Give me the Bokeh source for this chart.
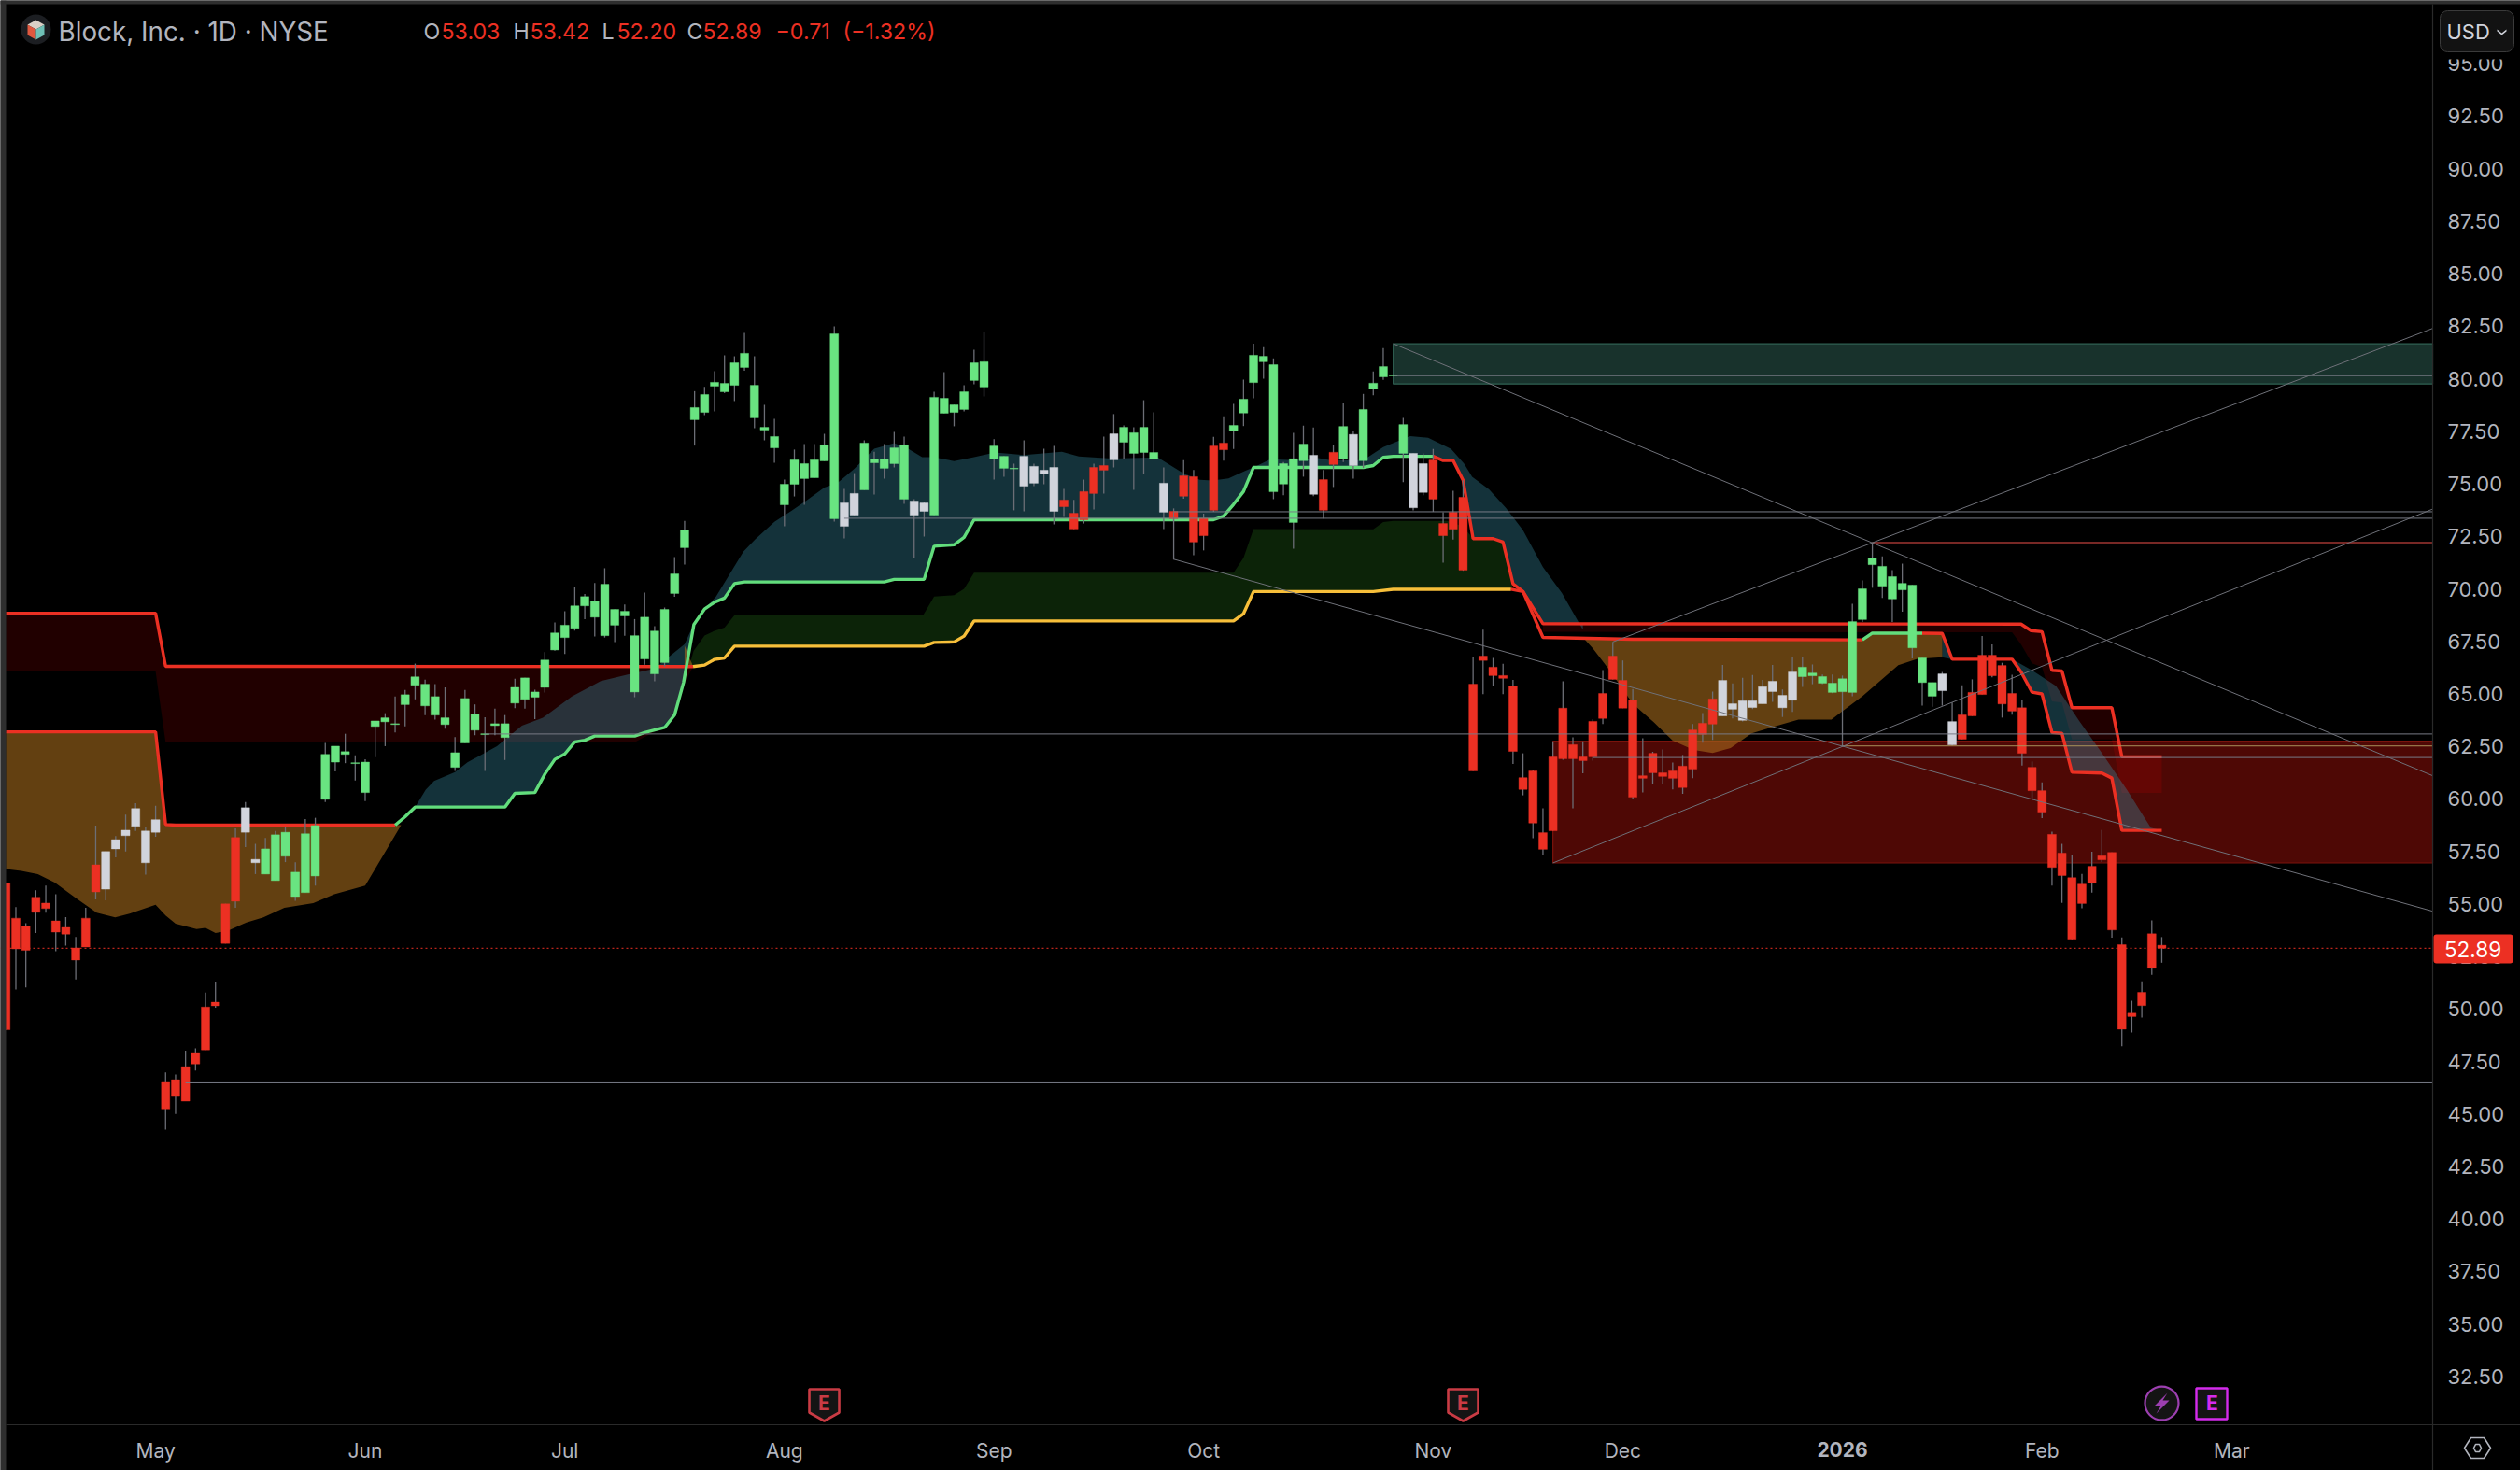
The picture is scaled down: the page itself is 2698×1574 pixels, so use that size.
from bokeh.embed import file_html
from bokeh.resources import INLINE
from bokeh.plotting import figure
from bokeh.models import (BoxAnnotation, ColumnDataSource, FixedTicker, Label,
                          NumeralTickFormatter, PolyAnnotation)

# ---------------- candle data (index = trading bar) ----------------
high = [56.0,54.85,54.08,55.65,55.87,55.46,54.37,53.43,54.82,58.73,
 57.49,58.23,59.25,59.80,58.67,59.67,46.98,46.88,48.01,48.12,
 50.78,51.26,55.0,58.60,59.85,57.86,58.14,58.47,58.64,56.98,
 59.04,59.10,62.66,62.51,63.10,62.07,61.88,63.71,64.08,64.87,
 65.19,66.44,65.68,65.46,65.31,62.94,65.19,64.50,63.89,64.30,
 63.99,65.72,65.76,65.20,66.99,68.40,68.93,70.08,69.76,70.28,
 70.98,69.02,69.25,68.56,69.82,68.22,69.11,71.51,73.23,79.41,
 79.61,80.36,81.12,81.07,82.18,81.07,78.76,78.09,75.20,76.63,
 76.89,76.89,77.38,82.50,74.76,75.51,77.07,76.52,76.89,77.47,
 77.25,74.27,74.14,79.38,80.32,78.76,79.69,81.38,82.23,77.12,
 76.31,75.96,77.07,75.96,76.67,76.80,74.76,74.23,75.20,75.96,
 77.25,78.32,77.78,77.69,78.98,78.40,75.78,73.83,76.13,75.66,
 73.58,77.24,78.21,78.80,79.96,81.67,81.51,80.97,76.04,77.42,
 77.77,77.68,75.66,76.84,78.86,77.54,79.28,80.35,81.46,80.18,
 78.14,76.45,76.45,76.66,73.65,74.67,75.17,66.76,68.05,66.71,
 66.43,65.67,62.17,61.40,59.55,62.74,65.60,62.93,62.74,63.79,
 66.13,67.47,66.59,65.23,62.89,62.24,62.35,61.73,62.09,63.56,
 64.09,65.11,66.38,65.50,65.76,65.90,65.67,66.38,65.21,66.73,
 66.73,66.40,65.92,65.92,65.87,69.29,70.40,72.21,71.55,70.89,
 71.20,70.18,66.71,65.54,66.04,64.59,65.41,65.69,67.76,67.35,
 66.48,65.91,64.70,61.78,60.79,58.44,57.86,57.32,56.43,57.48,
 58.52,57.45,53.40,50.39,51.31,54.21,53.42]
body_top = [55.98,54.32,53.93,55.32,55.04,54.19,53.88,52.90,54.32,56.86,
 57.49,58.06,58.51,59.54,58.47,59.01,46.50,46.63,47.25,47.92,
 50.09,50.32,55.0,58.16,59.58,57.12,57.62,58.29,58.41,56.51,
 58.34,58.73,62.12,62.51,62.25,61.72,61.75,63.71,63.86,63.58,
 64.96,65.81,65.46,64.87,63.86,62.20,64.78,64.02,63.10,63.58,
 63.58,65.31,65.76,65.09,66.61,67.90,68.27,69.19,69.63,69.41,
 70.22,69.02,68.93,67.77,68.65,67.99,69.02,70.71,72.80,78.63,
 79.25,79.83,79.78,80.76,81.21,79.69,77.69,77.25,74.98,76.14,
 75.96,76.14,76.85,82.14,74.09,74.54,76.94,76.18,76.18,76.71,
 76.85,74.18,74.09,79.12,79.07,78.76,79.38,80.76,80.81,76.80,
 76.31,75.74,76.31,75.83,75.65,75.78,74.23,73.60,74.63,75.78,
 75.87,77.38,77.69,77.43,77.69,76.49,75.03,73.69,75.38,75.34,
 73.35,76.80,76.94,77.78,79.03,81.12,81.07,80.67,75.96,76.19,
 76.89,76.36,75.20,76.50,77.73,77.35,78.54,79.79,80.58,80.18,
 77.82,76.45,75.96,76.13,73.11,73.65,74.36,65.46,66.80,66.27,
 65.87,65.37,61.01,61.33,58.39,62.00,64.32,62.58,62.00,63.69,
 65.02,66.80,65.64,64.70,61.10,62.17,61.24,61.33,61.56,63.28,
 63.60,64.76,65.64,64.53,64.67,64.67,65.34,65.60,64.93,66.04,
 66.27,65.99,65.82,65.51,65.72,68.44,70.00,71.46,71.07,70.58,
 70.26,70.18,66.71,65.54,65.95,63.68,64.00,65.07,66.84,66.84,
 66.35,65.02,64.34,61.50,60.39,58.31,57.42,56.25,55.94,56.79,
 57.29,57.45,53.06,49.80,50.79,53.58,53.03]
body_bot = [49.01,52.86,52.79,54.60,54.78,53.66,53.56,52.33,52.95,55.57,
 55.70,57.62,58.25,58.69,56.96,58.41,45.24,45.83,45.61,47.38,
 48.05,50.15,53.12,55.13,58.41,56.96,56.42,56.11,57.27,55.35,
 55.54,56.33,59.98,61.75,62.12,61.68,60.30,63.45,63.67,63.54,
 64.49,65.41,64.43,63.99,63.54,61.50,62.66,63.27,63.06,63.49,
 62.92,64.56,64.74,64.84,65.31,67.09,67.68,68.12,69.19,68.65,
 67.77,68.27,68.71,65.09,66.66,65.95,66.49,69.78,71.96,78.05,
 78.40,79.65,79.38,79.69,80.54,78.14,77.56,76.71,74.00,74.98,
 75.25,75.29,76.09,73.34,72.98,73.51,74.71,76.00,75.74,75.96,
 74.27,73.51,73.69,73.51,78.36,78.40,78.54,79.92,79.61,76.18,
 75.74,75.71,74.89,75.03,75.47,73.69,73.91,72.85,73.29,74.54,
 75.65,76.14,76.98,76.45,76.49,76.18,73.65,73.34,74.41,72.23,
 72.53,73.74,76.62,77.52,78.37,79.82,80.81,74.62,74.99,73.16,
 76.10,74.50,73.74,75.92,76.19,75.87,76.10,79.53,80.09,80.14,
 76.45,73.86,74.59,74.27,72.53,72.84,70.89,61.33,66.59,65.87,
 65.74,62.26,60.45,58.85,57.60,58.48,61.91,61.91,61.82,62.00,
 63.83,65.69,64.32,60.08,60.98,61.24,61.07,60.98,60.54,61.42,
 63.07,63.56,63.95,64.27,63.74,64.35,64.53,65.11,64.34,64.70,
 65.82,65.86,65.51,65.07,65.10,65.07,68.54,71.15,70.13,69.52,
 69.95,67.19,65.54,64.89,65.15,62.57,62.84,63.95,64.97,65.86,
 64.52,64.18,62.17,60.39,59.37,56.74,56.35,53.32,55.02,55.99,
 57.10,53.76,49.04,49.64,50.16,51.94,52.89]
low = [49.0,50.92,51.02,53.62,54.58,52.75,53.01,51.40,52.95,55.22,
 55.17,57.22,57.49,58.47,56.39,58.19,44.25,45.00,45.61,47.07,
 48.05,50.06,53.12,54.82,57.71,56.42,56.42,56.11,56.99,55.15,
 55.54,55.87,59.85,61.31,61.70,60.87,59.89,61.98,62.51,63.16,
 63.45,64.74,63.99,63.77,63.34,61.33,62.66,63.03,61.33,63.03,
 61.85,64.32,64.30,63.80,65.06,67.05,66.90,68.01,68.56,67.73,
 67.68,67.46,67.77,64.84,66.39,65.6,66.30,69.62,71.16,76.82,
 78.27,78.45,79.31,78.94,80.38,77.65,77.07,76.00,72.98,74.40,
 74.00,75.29,76.09,73.20,72.40,73.51,74.71,74.49,75.25,75.78,
 74.05,71.48,72.49,73.51,78.36,77.74,78.45,79.74,79.16,75.20,
 75.34,73.74,73.69,74.89,74.98,73.07,73.42,72.85,73.11,73.78,
 74.54,75.78,76.18,74.71,75.47,76.18,72.85,71.39,74.29,71.60,
 71.83,73.67,76.10,76.66,77.75,79.07,80.00,74.27,74.46,71.91,
 75.34,74.41,73.35,74.85,76.04,75.25,75.75,79.21,79.95,80.14,
 75.08,73.74,74.46,73.67,71.25,72.35,70.86,61.33,64.99,65.37,
 64.99,61.66,60.17,58.13,57.30,58.48,61.86,59.55,61.22,61.82,
 63.56,65.69,64.32,59.98,60.31,60.73,60.73,60.45,60.24,60.98,
 62.67,62.81,63.95,63.83,63.69,64.27,64.53,64.62,63.90,64.14,
 65.33,65.46,65.46,65.03,62.50,64.89,68.42,70.05,69.57,68.42,
 68.91,66.69,64.44,64.39,64.44,62.53,62.84,63.95,64.97,65.79,
 63.87,64.01,61.59,59.95,59.08,55.87,55.05,53.32,54.79,55.54,
 56.99,53.39,48.22,48.88,49.59,51.63,52.20]
# candle state: R red, W white, G green, in runs
state_runs = [("R",10),("W",6),("R",8),("W",2),("G",58),("W",2),("G",5),("W",2),("G",9),
 ("W",4),("R",5),("W",1),("G",4),("W",1),("R",6),("G",8),("W",1),("R",2),("G",1),("W",1),
 ("G",5),("W",2),("R",29),("W",8),("G",14),("W",2),("R",21)]

price_ticks = [32.5,35,37.5,40,42.5,45,47.5,50,52.5,55,57.5,60,62.5,65,67.5,70,72.5,75,77.5,
 80,82.5,85,87.5,90,92.5,95]
month_bars = [15,36,56,78,99,120,143,162,204,223]
month_names = ["May","Jun","Jul","Aug","Sep","Oct","Nov","Dec","Feb","Mar"]
year_bar = 184
last_close = 52.89

# ---------------- indicator lines: (bar, price) ----------------
red_a_x = [0,15,16,68.85]
red_a_y = [68.84,68.84,66.31,66.30]
red_b_x = [0,15,16,17,39]
red_b_y = [63.19,63.19,58.78,58.75,58.75]
band_a_low_x = [0,15,16,63,65,67,68,68.85]
band_a_low_y = [66.07,66.07,62.70,62.70,63.2,64.0,65.5,66.30]
brown_a_low_x = [0,1.55,3.2,4.9,7,9.1,10.95,12.4,15,16,17,19.1,20,21,22.2,24.1,25.8,27.9,30.8,32.9,36,39.6]
brown_a_low_y = [56.66,56.57,56.42,56.02,55.28,54.58,54.36,54.54,54.96,54.45,54.06,53.80,53.86,53.62,53.71,54.12,54.36,54.82,55.04,55.46,55.87,58.75]
green_x = [39,40,41,50,51,53,54,55,56,57,58,59,63,64,66,67,67.9,68.93,70,71,72,73,74,88,89,92,93,95,96,97,
 121,122,123,124,125,136,137,138,139,143]
green_y = [58.75,59.15,59.61,59.61,60.26,60.30,61.18,61.88,62.14,62.71,62.79,62.99,62.99,63.16,63.4,64.0,65.55,68.30,
 69.04,69.36,69.56,70.25,70.33,70.33,70.45,70.45,72.03,72.10,72.45,73.29,73.29,73.46,74.02,74.64,75.78,75.78,75.87,76.26,76.31,76.31]
teal_top_x = [41,42.07,42.9,45,46.25,49.2,51.7,53.8,56.7,59.6,62.5,65,66.55,68,68.9,70,71.15,73.9,75.1,77,78.7,80.3,82,83.3,
 85,87,89,90.4,91.8,92.9,95,97,99.1,102,105.8,107.5,110.8,115.4,118,119.6,120.9,122.5,124.2,125,
 126.7,129,131.5,132.7,136,138,140.7,142.5,144.8,146.1,146.9,148.6,150.3,152,154,155.9,158]
teal_top_y = [59.61,60.44,60.85,61.27,61.74,62.51,63.49,63.86,64.87,65.61,65.94,66.2,66.81,67.36,68.30,69.04,69.63,71.78,72.37,73.19,73.71,74.23,74.82,75.04,
 75.71,76.67,76.94,76.67,76.27,76.27,76.08,76.27,76.49,76.37,76.52,76.30,76.20,76.26,75.49,75.19,75.16,75.26,75.63,75.78,
 76.17,76.13,76.22,76.13,76.13,76.75,77.27,77.19,76.66,75.96,75.34,74.73,73.85,72.79,71.03,69.80,68.05]
yellow_x = [68.85,70,71,72,73,92,93,95,96,97,123,124,125,137,139,150.8]
yellow_y = [66.30,66.37,66.64,66.71,67.27,67.27,67.45,67.47,67.75,68.47,68.47,68.82,69.87,69.87,69.98,69.98]
dkgreen_top_x = [68.4,68.9,70,71,72,73,91.9,93,95,96,97,123,124,125,137,138,139,144.4,146,147,149,150,151,150.8]
dkgreen_top_y = [66.2,67.04,67.78,68.0,68.15,68.74,68.74,69.63,69.70,70.0,70.77,70.77,71.48,72.85,72.83,73.18,73.23,73.23,72.97,72.39,72.39,72.23,70.24,69.98]
red_upper_x = [143,144,145,146,147,149,150,151,152,154,201.9,202.9,204,205,206,207,211,212,216]
red_upper_y = [76.31,76.11,76.11,75.17,72.39,72.39,72.23,70.24,69.87,68.34,68.32,68.01,67.96,66.12,66.09,64.34,64.34,62.0,62.0]
red_lower_a_x = [150.8,152,154,163,186]
red_lower_a_y = [69.98,69.87,67.69,67.60,67.57]
green2_x = [186,187,192]
green2_y = [67.57,67.89,67.89]
red_lower_b_x = [192,194,195,201,201.9,203,204,205,206,207,210,211,212,216]
red_lower_b_y = [67.89,67.88,66.65,66.65,66.04,65.08,65.0,63.16,63.12,61.27,61.23,60.99,58.5,58.5]
band_b_low_x = [154,201,201.9,203,204,205,206,207,211,212,216]
band_b_low_y = [67.95,67.93,67.35,66.45,66.28,64.64,64.59,62.83,62.83,60.28,60.28]
brown_b_low_x = [158,159,160.7,163,165.1,167,169.1,171,172.8,174.9,177.4,179.6,182.9,186,189.6,191.5,194]
brown_b_low_y = [67.69,67.17,66.11,64.53,63.65,62.77,62.33,62.19,62.42,63.12,63.47,63.77,63.78,64.89,66.37,66.66,66.74]
teal_end_top_x = [201,203,205.4,207.7,209.9,212.5,214.9,216]
teal_end_top_y = [66.65,66.12,65.38,63.73,62.25,60.44,58.63,58.5]

# drawings: (start bar, price) horizontal rays, and diagonals
ray_bars = [139,117,84,48,159,18]
ray_prices = [80.15,73.67,73.36,63.09,61.97,46.48]
red_ray = (187,72.2)
tan_ray = (184,62.52)
diag_x0 = [139,117,155,161]
diag_y0 = [81.67,71.41,56.95,67.47]
diag_x1 = [243.15,243.15,243.15,243.15]
diag_y1 = [61.1,54.65,73.8,82.4]
zone_red = (155,62.75,56.95)
zone_green = (139,81.67,79.75)

# ---------------- pixel helpers (reference page pixels -> scales) ----------------
def X(px): return (px - 5.8) / 10.686
def Y(py): return 50 + (1079.8 - py) / 22.49

RED, GREEN, WHITE = "#ec3023", "#69e481", "#d1d4dc"
YELLOW = "#f7bf3a"
WICK = "#6c6e76"
TXT = "#b2b5be"
SEP = "#2a2a2a"
FONT = "Inter"
RIGHT = X(2604)

p = figure(width=2698, height=1574, output_backend="svg", toolbar_location=None,
           x_range=(X(0), X(2698)), y_range=(Y(1574), Y(0)),
           background_fill_color="#000000", border_fill_color="#000000",
           min_border_left=0, min_border_top=0, min_border_right=0, min_border_bottom=0,
           outline_line_color=None, y_axis_location="right")
p.grid.visible = False

ax = p.yaxis[0]
ax.fixed_location = RIGHT
ax.ticker = FixedTicker(ticks=price_ticks)
ax.formatter = NumeralTickFormatter(format="0.00")
ax.major_tick_line_color = None
ax.minor_tick_line_color = None
ax.axis_line_color = None
ax.major_label_text_color = TXT
ax.major_label_text_font = FONT
ax.major_label_text_font_size = "22px"
ax.major_label_standoff = 10

bx = p.xaxis[0]
bx.fixed_location = Y(1525)
bx.ticker = FixedTicker(ticks=month_bars)
bx.major_label_overrides = dict(zip(month_bars, month_names))
bx.major_tick_line_color = None
bx.minor_tick_line_color = None
bx.axis_line_color = None
bx.major_label_text_color = TXT
bx.major_label_text_font = FONT
bx.major_label_text_font_size = "21px"
bx.major_label_standoff = 9


def poly_between(tx, ty, bx_, by_, **kw):
    return p.patch(list(tx) + list(bx_)[::-1], list(ty) + list(by_)[::-1], line_color=None, **kw)

# zones
p.quad(left=[zone_red[0]], right=[RIGHT], top=[zone_red[1]], bottom=[zone_red[2]],
       fill_color="#4e0805", line_color="#7a130c", line_width=1.2)
p.quad(left=[zone_green[0]], right=[RIGHT], top=[zone_green[1]], bottom=[zone_green[2]],
       fill_color="#18322c", line_color="#2f6052", line_width=1.2)

# clouds
RB = dict(fill_color="#ff0000", fill_alpha=0.13)
poly_between(red_a_x, red_a_y, band_a_low_x, band_a_low_y, **RB)
poly_between(red_upper_x[9:], red_upper_y[9:], band_b_low_x, band_b_low_y, **RB)
poly_between(dkgreen_top_x, dkgreen_top_y, yellow_x, yellow_y, fill_color="#0c2308")

TL = dict(fill_color="#398fa6", fill_alpha=0.35)
poly_between(teal_top_x, teal_top_y,
             green_x[2:] + red_upper_x[1:10] + [158],
             green_y[2:] + red_upper_y[1:10] + [68.3], **TL)
poly_between(teal_end_top_x, teal_end_top_y, red_lower_b_x[3:], red_lower_b_y[3:], **TL)
poly_between([194,195], [67.88,66.65], [194,194.9], [66.74,66.65], **TL)

BR = dict(fill_color="#aa6e1e", fill_alpha=0.58)
poly_between(red_b_x + [39.6], red_b_y + [58.75], brown_a_low_x, brown_a_low_y, **BR)
poly_between([158,163,186] + green2_x[1:] + [194], [67.69,67.60,67.57] + green2_y[1:] + [67.88],
             brown_b_low_x, brown_b_low_y, **BR)
poly_between([68,68.85], [67.3,66.31], [68,68.85], [66.3,66.31], **BR)

# thick indicator lines
LW = 3.4
p.line(red_a_x, red_a_y, color=RED, line_width=LW)
p.line(red_b_x, red_b_y, color=RED, line_width=LW)
p.line(yellow_x, yellow_y, color=YELLOW, line_width=LW)
p.line(green_x, green_y, color="#62dd7c", line_width=LW)
p.line(green2_x, green2_y, color="#62dd7c", line_width=LW)
p.line(red_upper_x, red_upper_y, color=RED, line_width=LW)
p.line(red_lower_a_x, red_lower_a_y, color=RED, line_width=LW)
p.line(red_lower_b_x, red_lower_b_y, color=RED, line_width=LW)

# candles
states = [s for s, n in state_runs for _ in range(n)]
colmap = {"R": RED, "W": WHITE, "G": GREEN}
src = ColumnDataSource(dict(x=list(range(len(high))), high=high, low=low, top=body_top, bot=body_bot,
                            color=[colmap[s] for s in states]))
p.segment("x", "high", "x", "low", source=src, color=WICK, line_width=1.3)
p.vbar("x", width=0.84, top="top", bottom="bot", source=src, fill_color="color", line_color="color", line_width=0.4)

# thin drawings
for b, v in zip(ray_bars, ray_prices):
    p.line([b, RIGHT], [v, v], color="#787b86", line_width=1)
p.line([red_ray[0], RIGHT], [red_ray[1]] * 2, color="#f0504a", line_width=1.2)
p.line([tan_ray[0], RIGHT], [tan_ray[1]] * 2, color="#a9925a", line_width=1)
p.segment(diag_x0, diag_y0, diag_x1, diag_y1, color="#6f7179", line_width=1)
p.line([117, 117], [73.68, 71.41], color="#6f7179", line_width=1)
p.line([X(0), RIGHT], [last_close] * 2, color=RED, line_width=1, line_dash=[2, 3])

# window edge
p.quad(left=[X(0), X(0)], right=[X(6), X(2698)], top=[Y(0), Y(0)], bottom=[Y(1574), Y(4)],
       fill_color="#2e2e2e", line_color=None)

# event badges
def shield(cx, cy, col, letter):
    xs = [cx-16, cx+16, cx+16, cx, cx-16]
    ys = [cy-16, cy-16, cy+9, cy+18, cy+9]
    p.patch([X(v) for v in xs], [Y(v) for v in ys], fill_color="#141414", line_color=col, line_width=2.6)
    p.add_layout(Label(x=X(cx), y=Y(cy-1), text=letter, text_color=col, text_font=FONT, text_font_style="bold",
                       text_font_size="21px", text_align="center", text_baseline="middle"))
shield(882, 1503, "#c93b44", "E")
shield(1566, 1503, "#c93b44", "E")
p.scatter([X(2314)], [Y(1502)], marker="circle", size=36, fill_color="#141414", line_color="#9c3fb0", line_width=2.2)
bolt = [(2320,1491),(2306,1505),(2313,1505),(2308,1513),(2322,1499),(2315,1499)]
p.patch([X(a) for a, _ in bolt], [Y(b) for _, b in bolt], fill_color="#9c3fb0", line_color=None)
p.quad(left=[X(2351)], right=[X(2384)], top=[Y(1486)], bottom=[Y(1519)], fill_color="#141414",
       line_color="#d42bec", line_width=2.4)
p.add_layout(Label(x=X(2368), y=Y(1502), text="E", text_color="#d42bec", text_font=FONT, text_font_style="bold",
                   text_font_size="21px", text_align="center", text_baseline="middle"))

# logo
p.scatter([X(38)], [Y(31)], marker="circle", size=32, fill_color="#1c1e22", line_color=None)
for pts, c in [([(38,21),(47,26),(38,31),(29,26)], "#d9cfc6"),
               ([(29,26),(38,31),(38,42),(29,37)], "#e0583f"),
               ([(38,31),(47,26),(47,37),(38,42)], "#6fc0b6")]:
    p.patch([X(a) for a, _ in pts], [Y(b) for _, b in pts], fill_color=c, line_color=None)

# header texts
def head(px, text, col=TXT, size="23px"):
    p.add_layout(Label(x=X(px), y=Y(33), text=text, text_color=col, text_font=FONT, text_font_size=size,
                       text_baseline="middle", text_align="left"))
head(62, "Block, Inc. · 1D · NYSE", size="27.8px")
for px, t, c in [(453,"O",TXT),(472,"53.03",RED),(549,"H",TXT),(567,"53.42",RED),(644,"L",TXT),(660,"52.20",RED),
                 (735,"C",TXT),(752,"52.89",RED),(830,"−0.71",RED),(902,"(−1.32%)",RED)]:
    head(px, t, c, "23.2px")

# year label in bold on the time axis
p.add_layout(Label(x=year_bar, y=Y(1551), text="2026", text_color=TXT, text_font=FONT, text_font_style="bold",
                   text_font_size="21px", text_align="center", text_baseline="middle"))

# separators
p.segment([X(6), RIGHT], [Y(1525), Y(4)], [X(2698), RIGHT], [Y(1525), Y(1574)], color=SEP, line_width=1.2)

# last price tag
p.add_layout(BoxAnnotation(left=X(2605), right=X(2690), top=Y(1000), bottom=Y(1031), fill_color=RED, fill_alpha=1,
                           line_color=None, border_radius=3))
p.add_layout(Label(x=X(2647), y=Y(1015.5), text="52.89", text_color="#ffffff", text_font=FONT, text_font_size="22.5px",
                   text_align="center", text_baseline="middle"))

# currency button, which hides the top of the highest tick label
p.add_layout(BoxAnnotation(left=X(2606), right=X(2698), top=Y(5), bottom=Y(63), fill_color="#000000", fill_alpha=1,
                           line_color=None))
p.add_layout(BoxAnnotation(left=X(2612), right=X(2691), top=Y(11), bottom=Y(55), fill_color="#121212", fill_alpha=1,
                           line_color="#3a3a3a", line_alpha=1, line_width=1, border_radius=8))
p.add_layout(Label(x=X(2619), y=Y(33), text="USD", text_color="#d1d4dc", text_font=FONT, text_font_size="22px",
                   text_align="left", text_baseline="middle"))
p.add_layout(PolyAnnotation(xs=[X(2673), X(2678), X(2683), X(2683), X(2678), X(2673)],
                            ys=[Y(31), Y(35), Y(31), Y(33), Y(37), Y(33)],
                            fill_color="#d1d4dc", fill_alpha=1, line_color=None))

# settings hexagon
p.add_layout(PolyAnnotation(xs=[X(2638), X(2645), X(2659), X(2666), X(2659), X(2645)],
                            ys=[Y(1550), Y(1539), Y(1539), Y(1550), Y(1561), Y(1561)],
                            fill_alpha=0, line_color=TXT, line_alpha=1, line_width=1.6))
p.add_layout(PolyAnnotation(xs=[X(2648), X(2650), X(2654), X(2656), X(2654), X(2650)],
                            ys=[Y(1550), Y(1546), Y(1546), Y(1550), Y(1554), Y(1554)],
                            fill_alpha=0, line_color=TXT, line_alpha=1, line_width=1.6))

open("out.html", "w").write(file_html(p, INLINE))
